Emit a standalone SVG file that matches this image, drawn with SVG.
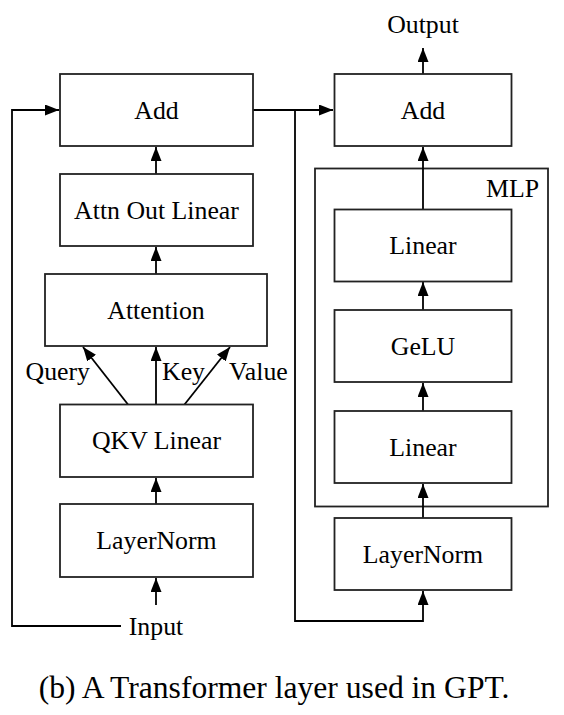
<svg xmlns="http://www.w3.org/2000/svg" width="564" height="715" viewBox="0 0 564 715">
<style>
  .box { fill: #fff; stroke: #222; stroke-width: 1.8; }
  .lbl { font-family: "Liberation Serif", "Times New Roman", serif; font-size: 25.8px; fill: #000; text-anchor: middle; }
  .edge { fill: none; stroke: #000; stroke-width: 1.8; }
  .cap { font-family: "Liberation Serif", "Times New Roman", serif; font-size: 31.6px; fill: #000; text-anchor: middle; }
</style>
<defs>
  <marker id="ah" markerUnits="userSpaceOnUse" markerWidth="15" markerHeight="12" refX="14" refY="5.5" orient="auto">
    <path d="M0,0 L14,5.5 L0,11 z" fill="#000"/>
  </marker>
</defs>
<rect width="564" height="715" fill="#fff"/>

<g id="mlp-group">
  <rect class="box" x="315" y="168.5" width="233" height="338" fill="none"/>
  <text class="lbl" x="539" y="197" style="text-anchor:end">MLP</text>
</g>

<g id="connectors">
  <line class="edge" x1="156" y1="605" x2="156" y2="578" marker-end="url(#ah)"/>
  <line class="edge" x1="156" y1="504" x2="156" y2="478" marker-end="url(#ah)"/>
  <line class="edge" x1="128" y1="404.5" x2="83" y2="347" marker-end="url(#ah)"/>
  <line class="edge" x1="156" y1="404.5" x2="156" y2="347" marker-end="url(#ah)"/>
  <line class="edge" x1="184.5" y1="404.5" x2="230" y2="347" marker-end="url(#ah)"/>
  <line class="edge" x1="156" y1="274" x2="156" y2="247" marker-end="url(#ah)"/>
  <line class="edge" x1="156" y1="174" x2="156" y2="147" marker-end="url(#ah)"/>
  <polyline class="edge" points="121,626 12,626 12,110 59,110" marker-end="url(#ah)"/>
  <line class="edge" x1="253" y1="110" x2="333" y2="110" marker-end="url(#ah)"/>
  <polyline class="edge" points="295,110 295,621 423,621 423,591" marker-end="url(#ah)"/>
  <line class="edge" x1="423" y1="518" x2="423" y2="484" marker-end="url(#ah)"/>
  <line class="edge" x1="423" y1="411" x2="423" y2="383" marker-end="url(#ah)"/>
  <line class="edge" x1="423" y1="310" x2="423" y2="282" marker-end="url(#ah)"/>
  <line class="edge" x1="423" y1="209.5" x2="423" y2="147" marker-end="url(#ah)"/>
  <line class="edge" x1="423" y1="74" x2="423" y2="48" marker-end="url(#ah)"/>
  <text class="lbl" x="90" y="380" style="text-anchor:end">Query</text>
  <text class="lbl" x="162" y="380" style="text-anchor:start">Key</text>
  <text class="lbl" x="229" y="380" style="text-anchor:start">Value</text>
</g>

<g id="input"><text class="lbl" x="156" y="635">Input</text></g>
<g id="output"><text class="lbl" x="423" y="32.5">Output</text></g>

<g id="add-left">
  <rect class="box" x="60" y="74" width="193" height="72"/>
  <text class="lbl" x="156.5" y="119">Add</text>
</g>
<g id="attn-out-linear">
  <rect class="box" x="60" y="174" width="193" height="72"/>
  <text class="lbl" x="156.5" y="218.5">Attn Out Linear</text>
</g>
<g id="attention">
  <rect class="box" x="45" y="274" width="222" height="72"/>
  <text class="lbl" x="156" y="318.5">Attention</text>
</g>
<g id="qkv-linear">
  <rect class="box" x="60" y="404.5" width="193" height="72.5"/>
  <text class="lbl" x="156.5" y="449">QKV Linear</text>
</g>
<g id="layernorm-left">
  <rect class="box" x="60" y="504" width="193" height="73"/>
  <text class="lbl" x="156.5" y="549">LayerNorm</text>
</g>

<g id="add-right">
  <rect class="box" x="334.5" y="74" width="177" height="72"/>
  <text class="lbl" x="423" y="119">Add</text>
</g>
<g id="linear-top">
  <rect class="box" x="334.5" y="209.5" width="177" height="72"/>
  <text class="lbl" x="423" y="254">Linear</text>
</g>
<g id="gelu">
  <rect class="box" x="334.5" y="310" width="177" height="72"/>
  <text class="lbl" x="423" y="354.5">GeLU</text>
</g>
<g id="linear-bottom">
  <rect class="box" x="334.5" y="411" width="177" height="72"/>
  <text class="lbl" x="423" y="455.5">Linear</text>
</g>
<g id="layernorm-right">
  <rect class="box" x="334.5" y="518" width="177" height="72"/>
  <text class="lbl" x="423" y="562.5">LayerNorm</text>
</g>

<text class="cap" x="274" y="698">(b) A Transformer layer used in GPT.</text>
</svg>
